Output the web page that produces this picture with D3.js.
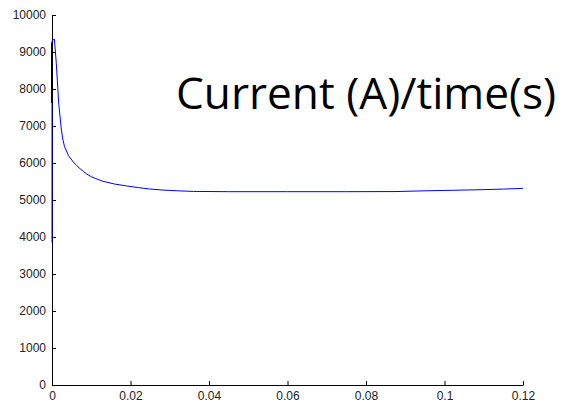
<!DOCTYPE html>
<html>
<head>
<meta charset="utf-8">
<script src="https://cdn.jsdelivr.net/npm/d3@7"></script>
<style>
  html, body { margin: 0; padding: 0; background: #fff; }
  svg { display: block; }
</style>
</head>
<body>
<div id="chart"></div>
<script>
// Data
const timeS = [0, 0, 0.0006, 0.0011, 0.0017, 0.0024, 0.0028, 0.0032, 0.0042, 0.0054, 0.0063,
  0.0071, 0.008, 0.0088, 0.01, 0.011, 0.013, 0.016, 0.019, 0.022, 0.0249, 0.028, 0.0317,
  0.036, 0.045, 0.06, 0.075, 0.0874, 0.095, 0.102, 0.11, 0.115, 0.12];
const currentA = [3850, 9300, 9350, 8690, 7620, 6890, 6620, 6440, 6200, 6030, 5930,
  5850, 5770, 5705, 5630, 5585, 5505, 5430, 5380, 5335, 5297, 5270, 5250,
  5232, 5225, 5225, 5225, 5228, 5248, 5262, 5280, 5295, 5315];
// short black trace sitting on the y axis near t = 0
const blackTime = [0, 0];
const blackValue = [9250, 7620];

const xTicks = [0, 0.02, 0.04, 0.06, 0.08, 0.1, 0.12];
const yTicks = [0, 1000, 2000, 3000, 4000, 5000, 6000, 7000, 8000, 9000, 10000];
const titleText = "Current (A)/time(s)";

const width = 565, height = 405;
const margin = { top: 15, right: 42, bottom: 20, left: 52 };

const svg = d3.select("#chart").append("svg")
  .attr("width", width)
  .attr("height", height);

const x = d3.scaleLinear()
  .domain([0, 0.12])
  .range([margin.left, width - margin.right]);

const y = d3.scaleLinear()
  .domain([0, 10000])
  .range([height - margin.bottom, margin.top]);

const tickFont = "'Liberation Sans', Arial, sans-serif";

// x axis, ticks pointing inward
const xAxis = svg.append("g")
  .attr("transform", `translate(0,${y(0)})`)
  .call(d3.axisBottom(x)
    .tickValues(xTicks)
    .tickFormat(d => d3.format("")(+d.toFixed(2)))
    .tickSizeInner(-4)
    .tickSizeOuter(0)
    .tickPadding(6));

// y axis
const yAxis = svg.append("g")
  .attr("transform", `translate(${x(0)},0)`)
  .call(d3.axisLeft(y)
    .tickValues(yTicks)
    .tickFormat(d3.format("d"))
    .tickSizeInner(-4)
    .tickSizeOuter(0)
    .tickPadding(6));

[xAxis, yAxis].forEach(g => {
  g.select(".domain").attr("stroke", "#000").attr("stroke-width", 1);
  g.selectAll(".tick line").attr("stroke", "#000");
  g.selectAll(".tick text")
    .attr("fill", "#222")
    .style("font-family", tickFont)
    .style("font-size", "12px");
});
xAxis.selectAll(".tick text").attr("dy", "0.71em");

const line = d3.line()
  .x(d => x(d[0]))
  .y(d => y(d[1]));

svg.append("path")
  .datum(timeS.map((t, i) => [t, currentA[i]]))
  .attr("fill", "none")
  .attr("stroke", "#0000ff")
  .attr("stroke-width", 1)
  .attr("d", line);

svg.append("path")
  .datum(blackTime.map((t, i) => [t, blackValue[i]]))
  .attr("fill", "none")
  .attr("stroke", "#000")
  .attr("stroke-width", 2)
  .attr("d", line);

// big label inside the plot, sized to span ~380px like the reference
const title = svg.append("text")
  .attr("x", 176)
  .attr("y", 109)
  .style("font-family", "'Open Sans', 'Noto Sans', sans-serif")
  .style("font-size", "46px")
  .attr("fill", "#000")
  .text(titleText);
const natural = title.node().getComputedTextLength();
title.style("font-size", (46 * 380 / natural).toFixed(1) + "px");
</script>
</body>
</html>
